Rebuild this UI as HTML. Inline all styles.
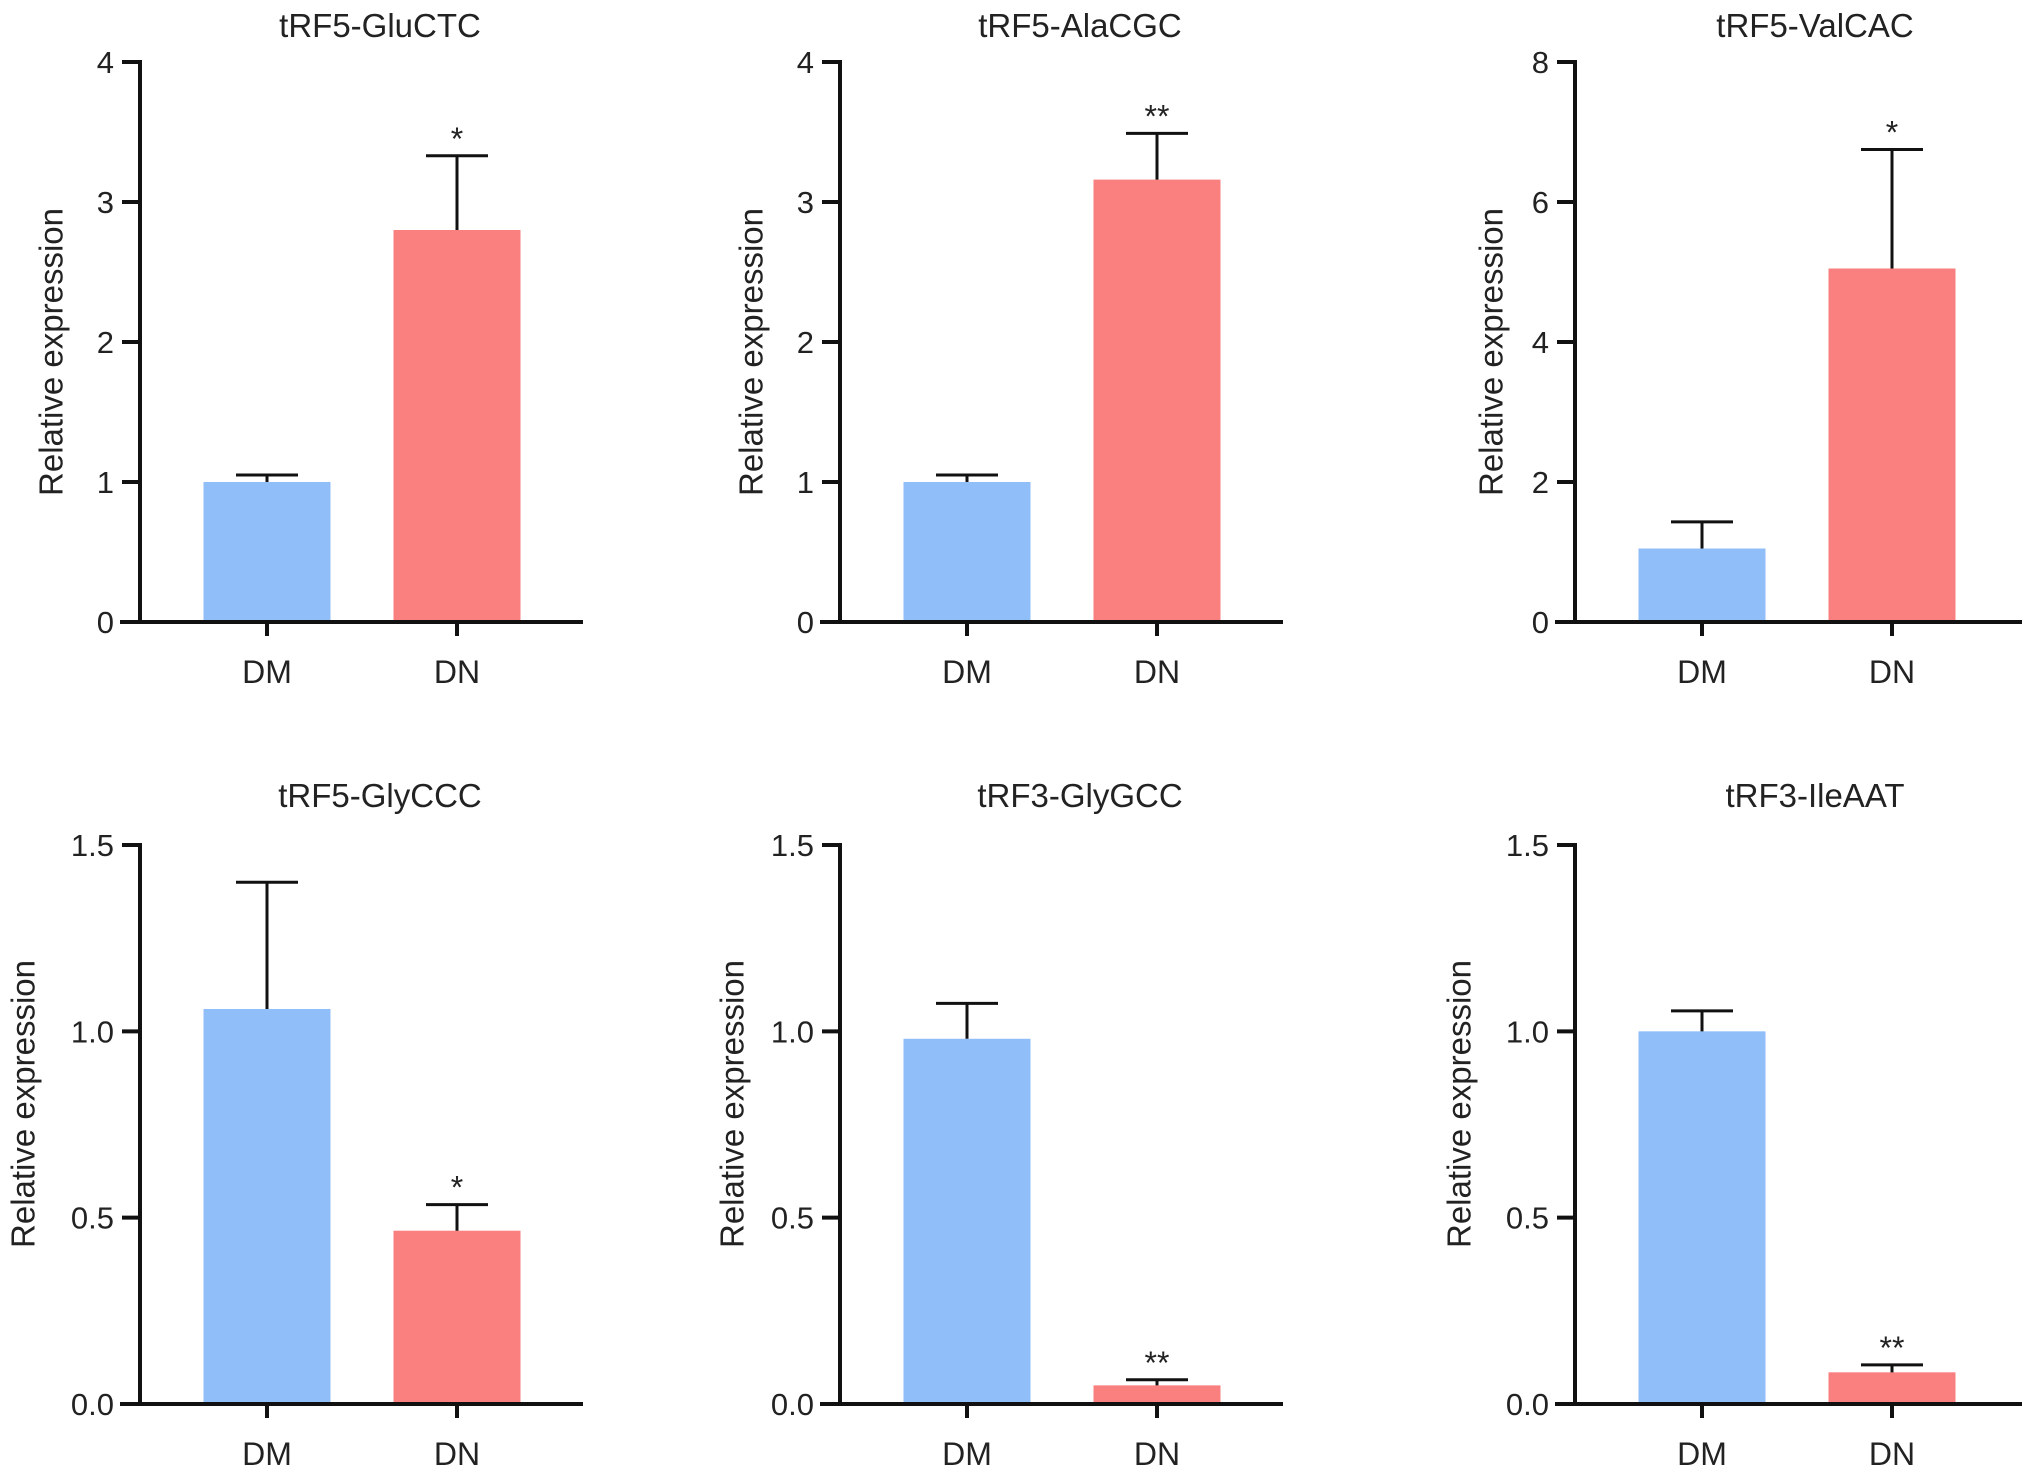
<!DOCTYPE html>
<html><head><meta charset="utf-8"><style>
html,body{margin:0;padding:0;background:#fff;}
svg{display:block;font-family:"Liberation Sans",Arial,sans-serif;}
</style></head><body>
<svg id="chart" width="2032" height="1483" viewBox="0 0 2032 1483" xmlns="http://www.w3.org/2000/svg"></svg>
<script>
const titles = ["tRF5-GluCTC","tRF5-AlaCGC","tRF5-ValCAC","tRF5-GlyCCC","tRF3-GlyGCC","tRF3-IleAAT"];
const categories = ["DM","DN"];
const dmValues = [1.0, 1.0, 1.05, 1.06, 0.98, 1.0];
const dmErrTop = [1.05, 1.05, 1.43, 1.40, 1.075, 1.055];
const dnValues = [2.8, 3.16, 5.05, 0.465, 0.05, 0.085];
const dnErrTop = [3.33, 3.49, 6.75, 0.535, 0.065, 0.105];
const stars = ["*","**","*","*","**","**"];
const yMax = [4, 4, 8, 1.5, 1.5, 1.5];
const tickLabels = [["0","1","2","3","4"],["0","1","2","3","4"],["0","2","4","6","8"],
  ["0.0","0.5","1.0","1.5"],["0.0","0.5","1.0","1.5"],["0.0","0.5","1.0","1.5"]];

const svg = document.getElementById('chart');
const NS = "http://www.w3.org/2000/svg";
function mk(tag, attrs, parent){const e=document.createElementNS(NS,tag);for(const k in attrs)e.setAttribute(k,attrs[k]);(parent||svg).appendChild(e);return e;}

const layout = [
  {ax:140, end:583, ylab:54, top:62, zero:622, ty:37, yc:352},
  {ax:840, end:1283, ylab:754, top:62, zero:622, ty:37, yc:352},
  {ax:1575, end:2022, ylab:1494, top:62, zero:622, ty:37, yc:352},
  {ax:140, end:583, ylab:26, top:845, zero:1404, ty:807, yc:1104},
  {ax:840, end:1283, ylab:735, top:845, zero:1404, ty:807, yc:1104},
  {ax:1575, end:2022, ylab:1462, top:845, zero:1404, ty:807, yc:1104}
];
const colors = ["#90bef9","#fa7f7f"];

titles.forEach((t,i)=>{
  const L = layout[i];
  const g = mk('g',{});
  
  
  const ys = v => L.zero - v/yMax[i]*(L.zero-L.top);
  const centers = [L.ax+127, L.ax+317];
  const barW = 127;
  const vals = [dmValues[i], dnValues[i]];
  const errs = [dmErrTop[i], dnErrTop[i]];
  const tt = mk('text',{x:L.ax+240,y:L.ty,'text-anchor':'middle','font-size':33,fill:'#222'},g);
  tt.textContent = t;
  
  
  vals.forEach((v,j)=>{
    const b = mk('rect',{x:centers[j]-barW/2,y:ys(v),width:barW,height:L.zero-ys(v),fill:colors[j]},g);
    
    
    const e = mk('path',{d:`M${centers[j]},${ys(v)}V${ys(errs[j])}M${centers[j]-31},${ys(errs[j])}H${centers[j]+31}`,stroke:'#111','stroke-width':3,fill:'none'},g);
    
    
    const xl = mk('text',{x:centers[j],y:L.zero+61,'text-anchor':'middle','font-size':32,fill:'#222'},g);
    xl.textContent = categories[j];
    
    
    const xt = mk('line',{x1:centers[j],x2:centers[j],y1:L.zero,y2:L.zero+14,stroke:'#111','stroke-width':4},g);
    
    
  });
  const st = mk('text',{x:centers[1],y:ys(errs[1])-6,'text-anchor':'middle','font-size':32,fill:'#222'},g);
  st.textContent = stars[i];
  
  
  const ya = mk('line',{x1:L.ax,x2:L.ax,y1:L.top-2,y2:L.zero+2,stroke:'#111','stroke-width':4},g);
  
  
  const xa = mk('line',{x1:L.ax-20,x2:L.end,y1:L.zero,y2:L.zero,stroke:'#111','stroke-width':4},g);
  
  
  const labs = tickLabels[i];
  labs.forEach((lab,k)=>{
    const v = yMax[i]*k/(labs.length-1);
    const tk = mk('line',{x1:L.ax-18,x2:L.ax,y1:ys(v),y2:ys(v),stroke:'#111','stroke-width':4},g);
    
    
    const tl = mk('text',{x:L.ax-26,y:ys(v)+11,'text-anchor':'end','font-size':31,fill:'#222'},g);
    tl.textContent = lab;
    
    
  });
  const cy = L.yc;
  const yl = mk('text',{x:L.ylab,y:cy,'text-anchor':'middle','font-size':33,fill:'#222',transform:`rotate(-90 ${L.ylab} ${cy})`,'dominant-baseline':'middle'},g);
  yl.textContent = 'Relative expression';
  
  
});
</script>
</body></html>
